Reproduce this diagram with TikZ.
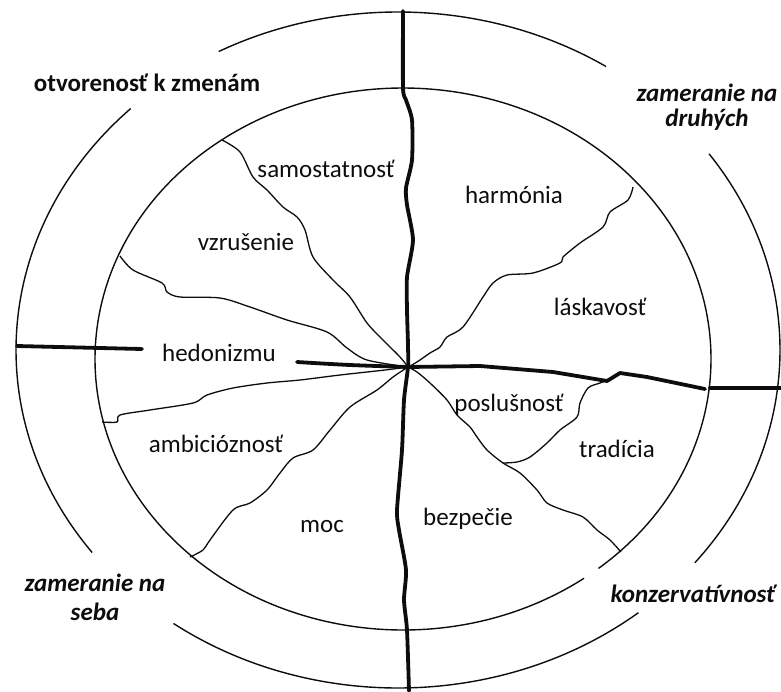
\documentclass[tikz,border=0pt]{standalone}
\usepackage{fontspec}
\setmainfont{Carlito}
\usetikzlibrary{calc}
\definecolor{ink}{HTML}{0D0D0D}
\tikzset{
rim/.style={draw=ink,line width=1.4pt},
axis/.style={draw=ink,line width=3.8pt,line cap=round,line join=round},
split/.style={draw=ink,line width=1.3pt,line join=round},
value/.style={font=\fontsize{25}{27}\selectfont,text=ink,inner sep=0pt,anchor=base},
pole/.style={font=\fontsize{25}{26}\selectfont\bfseries,text=ink,inner sep=0pt,align=center}}
\begin{document}
\begin{tikzpicture}[x=1pt,y=-1pt]
\useasboundingbox (0,0) rectangle (781,691);
\coordinate (oc) at (398,350);
\coordinate (ic) at (403,359);
\coordinate (hub) at (408,367);
\coordinate (knot) at (503,463);
% outer ring, open at the four poles
\foreach \a/\b in {57/118,134.4/216.8,234/309,-39/35.5}
  \draw[rim] ($(oc)+(\a:382pt and 338pt)$) arc[start angle=\a,end angle=\b,x radius=382pt,y radius=338pt];
% inner ring
\draw[rim] ($(ic)+(-50.6:308pt and 271pt)$) arc[start angle=-50.6,end angle=306,x radius=308pt,y radius=271pt];
% main axes
\draw[axis] plot[smooth,tension=.4] coordinates {(403,11) (403,88) (406,100) (412,120) (412,160) (406,188) (407,205) (413,240) (407,277) (407,310) (408,345) (hub) (404,400) (402,450) (397,510) (399,530) (406,570) (404,600) (407,630) (409,691)};
\draw[axis] (17,346) -- (142,349);
\draw[axis] plot[smooth,tension=.5] coordinates {(297,362) (350,365) (hub)};
\draw[axis] plot coordinates {(hub) (480,366) (553,372) (607,381) (620,373) (647,377) (705,389)};
\draw[axis] (710,388) -- (781,388);
% value borders
\draw[split] plot[smooth,tension=.5] coordinates {(222,140) (240,152) (253,177) (267,190) (283,207) (297,217) (305,230) (313,257) (333,280) (350,297) (367,323) (383,340) (400,357) (hub)};
\draw[split] plot[smooth,tension=.5] coordinates {(120,256) (133,270) (162,283) (167,292) (180,297) (220,298) (250,307) (287,320) (327,332) (347,348) (367,360) (hub)};
\draw[split] plot[smooth,tension=.5] coordinates {(102,422) (117,422) (120,415) (150,410) (193,403) (207,395) (233,388) (267,383) (300,380) (340,375) (385,370) (hub)};
\draw[split] plot[smooth,tension=.5] coordinates {(190,557) (203,550) (210,540) (233,510) (250,503) (267,490) (280,473) (293,458) (313,450) (330,430) (350,407) (377,390) (393,377) (hub)};
\draw[split] plot[smooth,tension=.5] coordinates {(633,187) (628,200) (610,212) (603,227) (580,243) (563,257) (560,263) (533,273) (507,275) (493,283) (483,297) (463,327) (447,337) (440,347) (430,353) (417,362) (hub)};
\draw[split] plot[smooth,tension=.5] coordinates {(hub) (417,372) (430,383) (447,400) (457,415) (470,427) (477,437) (487,450) (knot) (520,473) (537,490) (547,503) (563,510) (583,517) (597,530) (610,540) (621,552)};
\draw[split] plot[smooth,tension=.5] coordinates {(knot) (517,462) (530,457) (547,443) (560,430) (577,417) (580,403) (588,388) (600,383) (608,380)};
% values
\node[value] (samo) at (326,177) {samostatnosť};
\node[value] (vzru) at (246,250) {vzrušenie};
\node[value] (hedo) at (219,361) {hedonizmu};
\node[value] (ambi) at (216,452) {ambicióznosť};
\node[value] (moc) at (322,532) {moc};
\node[value] (harm) at (514,203) {harmónia};
\node[value] (lask) at (600,315) {láskavosť};
\node[value] (posl) at (509,411) {poslušnosť};
\node[value] (trad) at (617,457) {tradícia};
\node[value] (bezp) at (468,525) {bezpečie};
% poles
\node[pole] (open) at (147,83) {otvorenosť k zmenám};
\node[pole,font=\fontsize{25}{25}\selectfont\bfseries\itshape] (others) at (707,107) {zameranie na\\druhých};
\node[pole,font=\fontsize{25}{29}\selectfont\bfseries\itshape] (self) at (95,597) {zameranie na\\seba};
\node[pole,font=\fontsize{25}{26}\selectfont\bfseries\itshape] (cons) at (693,594) {konzervatívnosť};
\end{tikzpicture}
\end{document}
